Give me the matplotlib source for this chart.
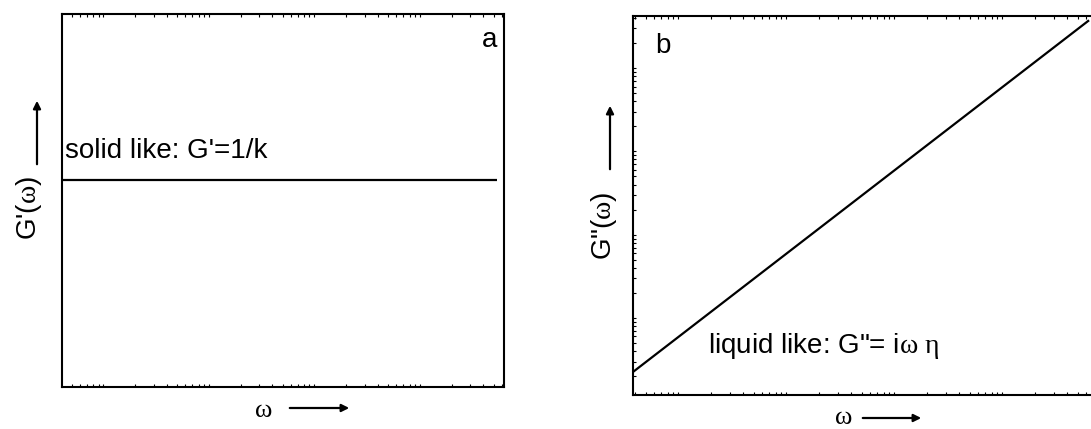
import numpy as np
import matplotlib
matplotlib.use("Agg")
import matplotlib.pyplot as plt
from matplotlib.ticker import LogLocator, NullFormatter

plt.rcParams['font.family'] = ['Liberation Sans', 'DejaVu Sans']
plt.rcParams['mathtext.fontset'] = 'custom'
plt.rcParams['mathtext.rm'] = 'Liberation Serif'
plt.rcParams['mathtext.it'] = 'Liberation Serif'
plt.rcParams['mathtext.default'] = 'rm'

# (a) solid-like response: constant storage modulus
omega_a = [0.00403, 54.0]
storage = [0.554, 0.554]
xlim_a = (0.00403, 62.8)
ylim_a = (0.0, 1.0)

# (b) liquid-like response: loss modulus proportional to frequency
omega_b = [0.00383, 63.9]
loss = [0.00225, 37.5]
xlim_b = (0.00383, 69.5)
ylim_b = (0.00119, 42.2)

W, H = 1091, 429
fig = plt.figure(figsize=(W / 100, H / 100), dpi=100)


def fx(x):
    return x / W


def fy(y):
    return 1 - y / H


def axes_from_px(left, top, right, bottom):
    return fig.add_axes([fx(left), fy(bottom), fx(right) - fx(left), fy(top) - fy(bottom)])


def style_log_axis(axis):
    axis.set_major_locator(LogLocator(base=10, numticks=30))
    axis.set_minor_locator(LogLocator(base=10, subs=np.arange(2, 10), numticks=30))
    axis.set_major_formatter(NullFormatter())
    axis.set_minor_formatter(NullFormatter())


def arrow(x0, y0, x1, y1):
    fig.add_artist(matplotlib.patches.FancyArrowPatch(
        (fx(x0), fy(y0)), (fx(x1), fy(y1)), transform=fig.transFigure,
        arrowstyle='-|>', mutation_scale=11, lw=1.6, color='black'))


# ---- panel a ----
ax1 = axes_from_px(61.7, 14, 504, 387)
ax1.plot(omega_a, storage, color='black', lw=1.6, solid_capstyle='butt')
ax1.set_xscale('log')
ax1.set_xlim(*xlim_a)
ax1.set_ylim(*ylim_a)
style_log_axis(ax1.xaxis)
ax1.tick_params(axis='x', which='both', direction='in', top=True, bottom=True,
                length=2.2, width=0.8, labelbottom=False)
ax1.tick_params(axis='y', which='both', left=False, right=False, labelleft=False)
for s in ax1.spines.values():
    s.set_linewidth(1.5)

fig.text(fx(65), fy(158), "solid like: G'=1/k", fontsize=20, va='baseline', ha='left')
fig.text(fx(497), fy(47), "a", fontsize=20, va='baseline', ha='right')
fig.text(fx(29), fy(208), "G'($\\omega$)", fontsize=20, rotation=90, ha='center', va='center')
arrow(37, 167, 37, 98)
fig.text(fx(264), fy(411), "ω", family='Liberation Serif', fontsize=19, ha='center', va='center')
arrow(287, 408, 352, 408)

# ---- panel b ----
ax2 = axes_from_px(633, 16, 1093, 395)
ax2.plot(omega_b, loss, color='black', lw=1.6, solid_capstyle='butt')
ax2.set_xscale('log')
ax2.set_yscale('log')
ax2.set_xlim(*xlim_b)
ax2.set_ylim(*ylim_b)
style_log_axis(ax2.xaxis)
style_log_axis(ax2.yaxis)
ax2.tick_params(axis='both', which='both', direction='in', top=True, bottom=True,
                left=True, right=False, length=2.2, width=0.8,
                labelbottom=False, labelleft=False)
for s in ax2.spines.values():
    s.set_linewidth(1.5)

fig.text(fx(655), fy(53), "b", fontsize=20, va='baseline', ha='left')
fig.text(fx(708), fy(353), "liquid like: G\"= i$\\omega\\ \\eta$", fontsize=20,
         va='baseline', ha='left')
fig.text(fx(604), fy(226), "G\"($\\omega$)", fontsize=20, rotation=90, ha='center', va='center')
arrow(610, 172, 610, 103)
fig.text(fx(844), fy(418), "ω", family='Liberation Serif', fontsize=19, ha='center', va='center')
arrow(860, 418, 924, 418)

fig.savefig("out.png", dpi=100)
